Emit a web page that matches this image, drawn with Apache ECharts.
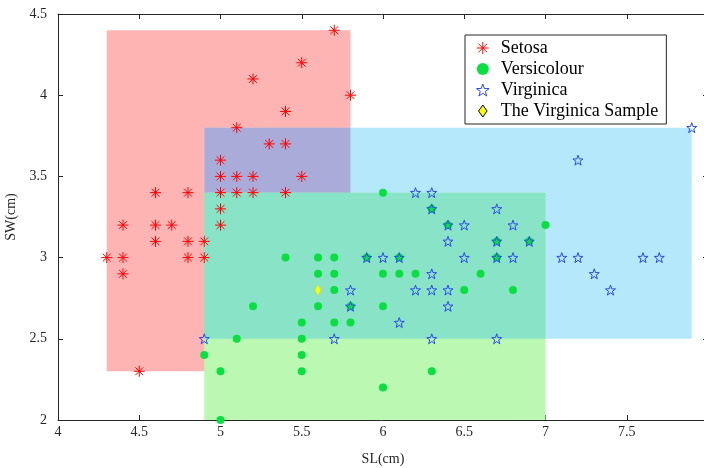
<!DOCTYPE html>
<html><head><meta charset="utf-8">
<script src="https://cdn.jsdelivr.net/npm/echarts@6/dist/echarts.min.js"></script>
<style>html,body{margin:0;padding:0;background:#fff}#c{width:704px;height:468px}</style>
</head><body><div id="c"></div>
<script>
// [SL, SW] pairs
const setosa = [[4.3,3.0],[4.4,2.9],[4.4,3.0],[4.4,3.2],[4.5,2.3],[4.6,3.1],[4.6,3.2],[4.6,3.4],[4.7,3.2],[4.8,3.0],[4.8,3.1],[4.8,3.4],[4.9,3.0],[4.9,3.1],[5.0,3.2],[5.0,3.3],[5.0,3.4],[5.0,3.5],[5.0,3.6],[5.1,3.4],[5.1,3.5],[5.1,3.8],[5.2,3.4],[5.2,3.5],[5.2,4.1],[5.3,3.7],[5.4,3.4],[5.4,3.7],[5.4,3.9],[5.5,3.5],[5.5,4.2],[5.7,4.4],[5.8,4.0]];
const versicolour = [[4.9,2.4],[5.0,2.0],[5.0,2.3],[5.1,2.5],[5.2,2.7],[5.4,3.0],[5.5,2.3],[5.5,2.4],[5.5,2.5],[5.5,2.6],[5.6,2.7],[5.6,2.9],[5.6,3.0],[5.7,2.6],[5.7,2.8],[5.7,2.9],[5.7,3.0],[5.8,2.6],[5.8,2.7],[5.9,3.0],[6.0,2.2],[6.0,2.7],[6.0,2.9],[6.0,3.4],[6.1,2.9],[6.1,3.0],[6.2,2.9],[6.3,2.3],[6.3,3.3],[6.4,3.2],[6.5,2.8],[6.6,2.9],[6.7,3.0],[6.7,3.1],[6.8,2.8],[6.9,3.1],[7.0,3.2]];
const virginica = [[4.9,2.5],[5.7,2.5],[5.8,2.7],[5.8,2.8],[5.9,3.0],[6.0,3.0],[6.1,2.6],[6.1,3.0],[6.2,2.8],[6.2,3.4],[6.3,2.5],[6.3,2.8],[6.3,2.9],[6.3,3.3],[6.3,3.4],[6.4,2.7],[6.4,2.8],[6.4,3.1],[6.4,3.2],[6.5,3.0],[6.5,3.2],[6.7,2.5],[6.7,3.0],[6.7,3.1],[6.7,3.3],[6.8,3.0],[6.8,3.2],[6.9,3.1],[7.1,3.0],[7.2,3.0],[7.2,3.6],[7.3,2.9],[7.4,2.8],[7.6,3.0],[7.7,3.0],[7.9,3.8]];
const virginicaSample = [[5.6,2.8]];
const seriesNames = ['Setosa','Versicolour','Virginica','The Virginica Sample'];
const xRange = [4, 8], yRange = [2, 4.5], tickStep = 0.5;
const xName = 'SL(cm)', yName = 'SW(cm)';

// bounding boxes of each class (and overlaps)
function bbox(p){
  const xs = p.map(d=>d[0]), ys = p.map(d=>d[1]);
  return {x0:Math.min(...xs), x1:Math.max(...xs), y0:Math.min(...ys), y1:Math.max(...ys)};
}
function inter(a,b){
  return {x0:Math.max(a.x0,b.x0), x1:Math.min(a.x1,b.x1), y0:Math.max(a.y0,b.y0), y1:Math.min(a.y1,b.y1)};
}
const bS = bbox(setosa), bVc = bbox(versicolour), bVg = bbox(virginica);
const boxList = [
  [bS, '#ffb4b4'],
  [bVg, '#b4e8fa'],
  [inter(bS,bVg), '#a9acd9'],
  [bVc, '#bbf8b2'],
  [inter(bVg,bVc), '#89e3c6']
];
const boxData = boxList.map(([b,c]) => ({value:[b.x0,b.y0,b.x1,b.y1], itemStyle:{color:c}}));

function starPath(){
  let d = '';
  for (let i = 0; i < 10; i++) {
    const r = (i % 2) ? 0.40 : 1;
    const a = -Math.PI/2 + i*Math.PI/5;
    d += (i ? 'L' : 'M') + (10 + r*Math.cos(a)*10).toFixed(2) + ' ' + (10 + r*Math.sin(a)*10).toFixed(2) + ' ';
  }
  return 'path://' + d + 'Z';
}
const asterisk = 'path://M5 0L5 10M0 5L10 5M1.46 1.46L8.54 8.54M1.46 8.54L8.54 1.46';
const star = starPath();
const tallDiamond = 'path://M5 0L10 7L5 14L0 7Z';

const serif = 'Liberation Serif';
const axisCol = '#262626';
const lineStyle = {color: axisCol, width: 1};
function xAx(pos, showLabel){
  return {type:'value', position:pos, min:xRange[0], max:xRange[1], interval:tickStep,
    axisLine:{show:true, onZero:false, lineStyle},
    axisTick:{show:true, inside:true, length:5, lineStyle},
    axisLabel:{show:showLabel, showMaxLabel:false, color:axisCol, fontFamily:serif, fontSize:14, margin:5},
    splitLine:{show:false},
    name: showLabel ? xName : '', nameLocation:'middle', nameGap:32,
    nameTextStyle:{color:axisCol, fontFamily:serif, fontSize:14}};
}
function yAx(pos, showLabel){
  return {type:'value', position:pos, min:yRange[0], max:yRange[1], interval:tickStep,
    axisLine:{show:true, onZero:false, lineStyle},
    axisTick:{show:true, inside:true, length:5, lineStyle},
    axisLabel:{show:showLabel, color:axisCol, fontFamily:serif, fontSize:14, margin:11},
    splitLine:{show:false},
    name: showLabel ? yName : '', nameLocation:'middle', nameGap:31,
    nameTextStyle:{color:axisCol, fontFamily:serif, fontSize:14}};
}

const chart = echarts.init(document.getElementById('c'), null, {renderer:'canvas'});
chart.setOption({
  animation:false,
  backgroundColor:'#fff',
  grid:{left:58, top:14, width:650, height:406, outerBoundsMode:'none', containLabel:false},
  xAxis:[xAx('bottom', true), xAx('top', false)],
  yAxis:[yAx('left', true), yAx('right', false)],
  legend:{
    orient:'vertical', left:465, top:35,
    itemWidth:26, itemHeight:12, itemGap:3,
    padding:[4,8,4,11],
    borderColor:'#262626', borderWidth:1, backgroundColor:'#fff',
    textStyle:{fontFamily:serif, fontSize:18, color:'#000'},
    data:[
      {name:seriesNames[0], itemStyle:{borderWidth:1}},
      {name:seriesNames[1]},
      {name:seriesNames[2], itemStyle:{borderWidth:1}},
      {name:seriesNames[3], icon:tallDiamond, itemStyle:{borderColor:'#000', borderWidth:1}}
    ]
  },
  series:[
    {type:'custom', name:'boxes', silent:true, z:1,
     encode:{x:[0,2], y:[1,3]},
     renderItem:(params, api) => {
       const p0 = api.coord([api.value(0), api.value(3)]);
       const p1 = api.coord([api.value(2), api.value(1)]);
       return {type:'rect', shape:{x:p0[0], y:p0[1], width:p1[0]-p0[0], height:p1[1]-p0[1]},
               style:{fill:api.visual('color')}};
     },
     data:boxData},
    {type:'scatter', name:seriesNames[0], z:2, data:setosa, symbol:asterisk, symbolSize:11,
     itemStyle:{color:'rgba(0,0,0,0)', borderColor:'#ff0000', borderWidth:1, opacity:1}},
    {type:'scatter', name:seriesNames[1], z:2, data:versicolour, symbol:'circle', symbolSize:8,
     itemStyle:{color:'#08e040', opacity:1}},
    {type:'scatter', name:seriesNames[2], z:2, data:virginica, symbol:star, symbolSize:10,
     itemStyle:{color:'rgba(0,0,0,0)', borderColor:'#2a4af0', borderWidth:1, opacity:1}},
    {type:'scatter', name:seriesNames[3], z:3, data:virginicaSample, symbol:tallDiamond, symbolSize:[8,11],
     symbolKeepAspect:true,
     itemStyle:{color:'#ffff00', borderColor:'#e8e000', borderWidth:0.5, opacity:1}}
  ]
});
</script></body></html>
